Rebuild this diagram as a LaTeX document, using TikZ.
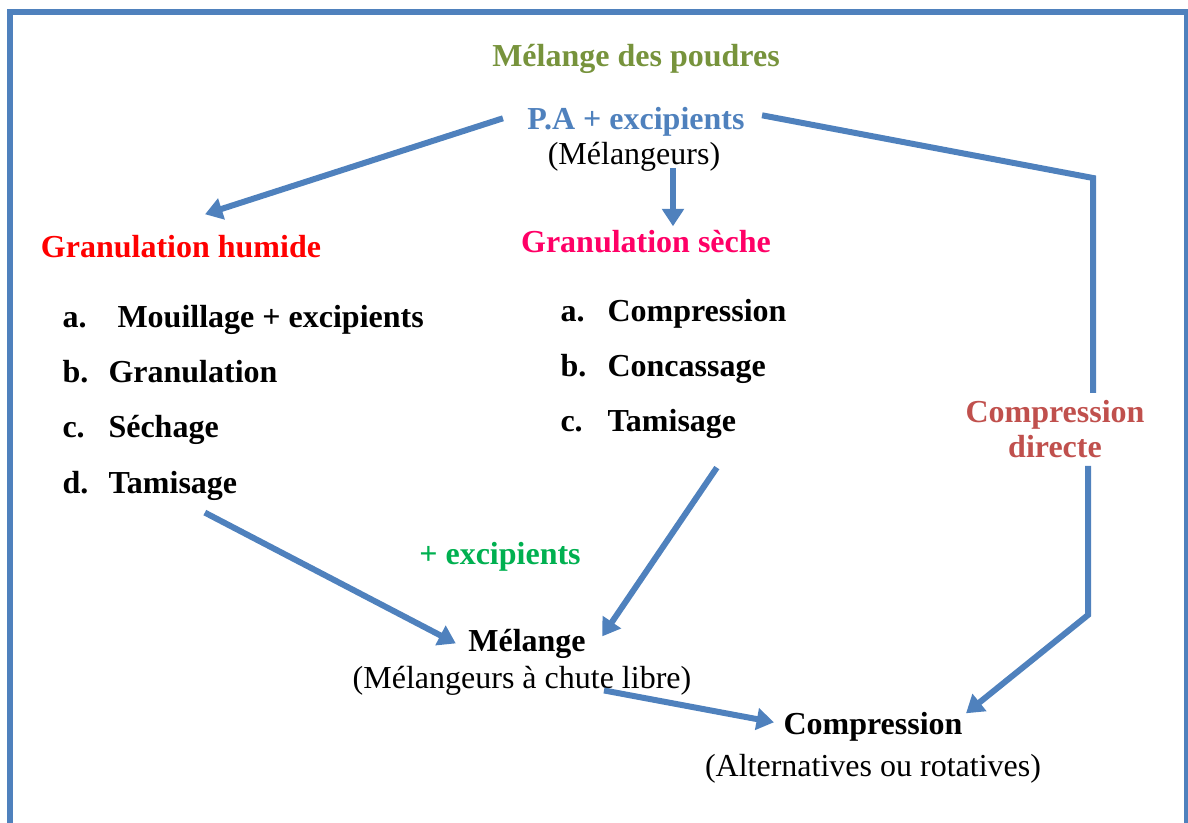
\documentclass[tikz,border=0pt]{standalone}
\usepackage{fontspec}
\setmainfont{Liberation Serif}
\usetikzlibrary{arrows.meta,calc}
\definecolor{flowblue}{HTML}{4F81BD}
\definecolor{titleolive}{HTML}{77933C}
\definecolor{secpink}{HTML}{FF0066}
\definecolor{directred}{HTML}{C0504D}
\definecolor{addgreen}{HTML}{00B050}
\newcommand{\txt}{\fontsize{12}{13.2}\selectfont}
\begin{document}
\begin{tikzpicture}[x=0.375pt, y=-0.375pt,
  every node/.style={font=\txt, inner sep=0pt, anchor=base},
  hd/.style={font=\txt\bfseries},
  item/.style={anchor=base west, font=\txt\bfseries},
  flowline/.style={flowblue, line width=2.25pt},
  flow/.style={flowline, -{Triangle[length=6.5pt,width=8pt]}}]
  \useasboundingbox (0,0) rectangle (1188,823);
  \draw[flowline] (10,12) rectangle (1187,850);

  \node[hd, titleolive] (titre) at (636,67) {Mélange des poudres};
  \node[hd, flowblue] (pa) at (636,130) {P.A + excipients};
  \node (mel) at (634,165) {(Mélangeurs)};

  \node[hd, red] (gh) at (181,258) {Granulation humide};
  \node[item] (la1) at (62,328) {a.}; \node[item] (ta1) at (117,328) {Mouillage + excipients};
  \node[item] (lb1) at (62,383) {b.}; \node[item] (tb1) at (108,383) {Granulation};
  \node[item] (lc1) at (62,438) {c.}; \node[item] (tc1) at (108,438) {Séchage};
  \node[item] (ld1) at (62,494) {d.}; \node[item] (td1) at (108,494) {Tamisage};

  \node[hd, secpink] (gs) at (646,253) {Granulation sèche};
  \node[item] (la2) at (560,322) {a.}; \node[item] (ta2) at (607,322) {Compression};
  \node[item] (lb2) at (560,377) {b.}; \node[item] (tb2) at (607,377) {Concassage};
  \node[item] (lc2) at (560,432) {c.}; \node[item] (tc2) at (607,432) {Tamisage};

  \node[hd, directred, align=center, anchor=center] (cd) at (1055,429) {Compression\\directe};
  \node[hd, addgreen] (plus) at (500,565) {+ excipients};

  \node[hd] (mlg) at (527,652) {Mélange};
  \node (mlgsub) at (522,689) {(Mélangeurs à chute libre)};
  \node[hd] (comp) at (873,735) {Compression};
  \node (compsub) at (873,777) {(Alternatives ou rotatives)};

  \coordinate (kneeA) at (1093,178); \coordinate (breakA) at (1093,393);
  \coordinate (breakB) at (1088,466); \coordinate (kneeB) at (1088,615);

  \draw[flow] ($(pa.west)+(-24,-4)$) -- ($(gh.north)+(24,-21)$);
  \draw[flow] ($(mel.south)+(39,-4)$) -- ($(gs.north)+(27,-4)$);
  \draw[flowline] ($(pa.east)+(17,-7)$) -- (kneeA) -- (breakA);
  \draw[flow] (breakB) -- (kneeB) -- ($(comp.east)+(3,-14)$);
  \draw[flow] ($(td1.south)+(32,11)$) -- ($(mlg.west)+(-12,-1)$);
  \draw[flow] ($(tc2.south)+(45,28)$) -- ($(mlg.east)+(16,-8)$);
  \draw[flow] ($(mlgsub.south)+(82,-6)$) -- ($(comp.west)+(-9,-5)$);
\end{tikzpicture}
\end{document}
